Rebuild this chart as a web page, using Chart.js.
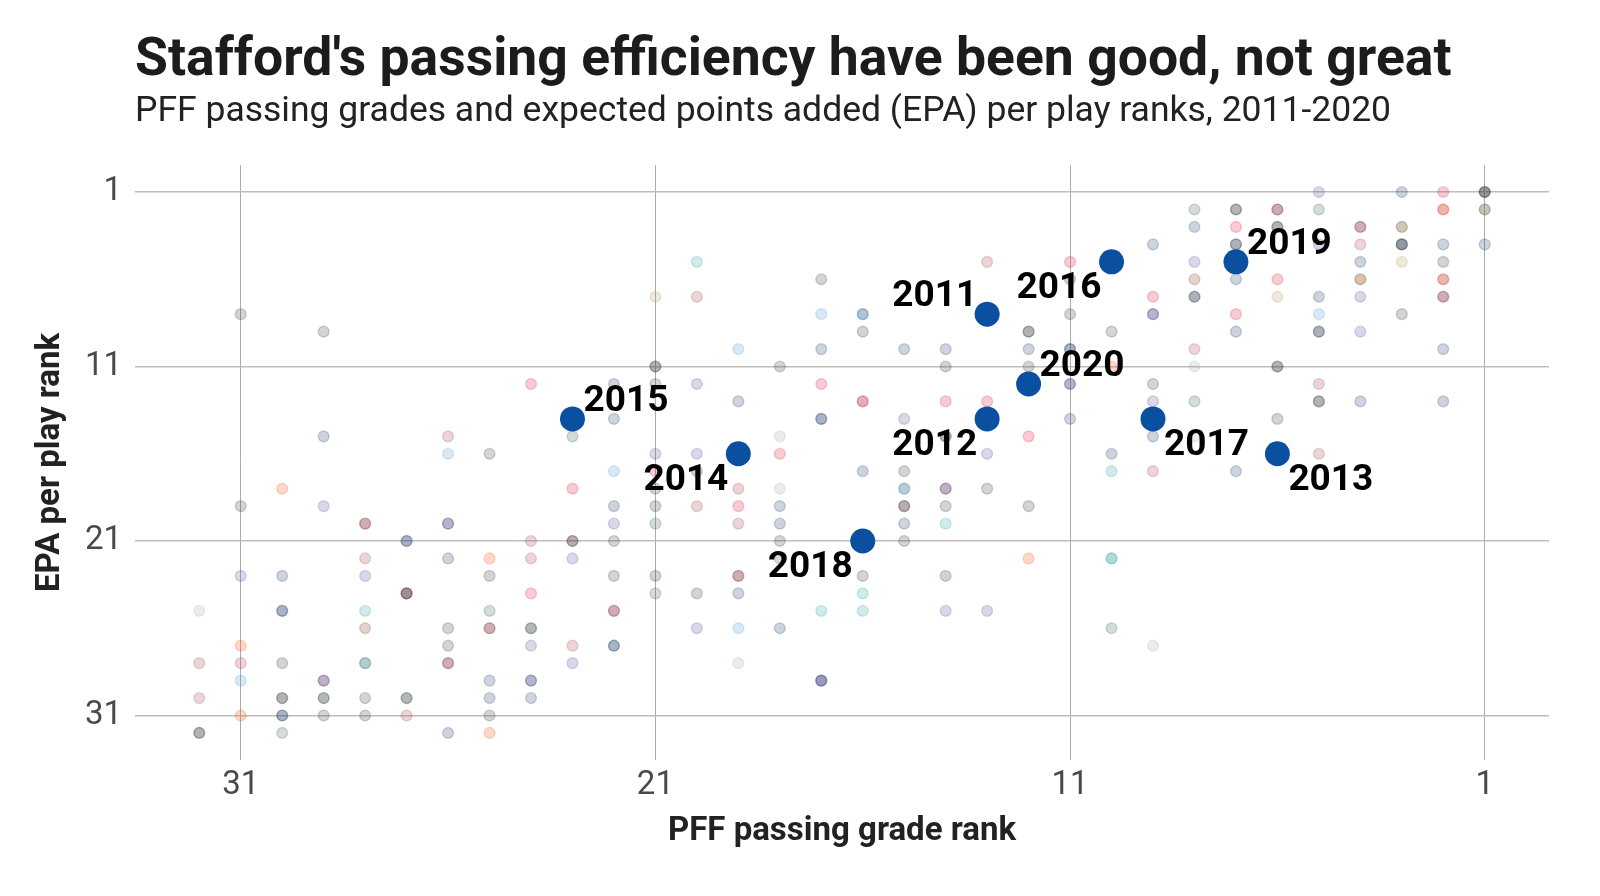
<!DOCTYPE html>
<html>
<head>
<meta charset="utf-8">
<script src="https://cdn.jsdelivr.net/npm/chart.js@4.4.1/dist/chart.umd.min.js"></script>
<style>
  html, body { margin: 0; padding: 0; background: #ffffff; }
  #wrap { width: 1600px; height: 896px; }
</style>
</head>
<body>
<div id="wrap"><canvas id="c" width="1600" height="896"></canvas></div>
<script>
// ---------------- DATA ----------------
const titleText = "Stafford's passing efficiency have been good, not great";
const subtitleText = "PFF passing grades and expected points added (EPA) per play ranks, 2011-2020";
const xAxisTitle = "PFF passing grade rank";
const yAxisTitle = "EPA per play rank";
const tickValues = [31, 21, 11, 1];

// Stafford seasons
const staffordYears      = ['2011', '2012', '2013', '2014', '2015', '2016', '2017', '2018', '2019', '2020'];
const staffordGradeRank  = [13, 13, 6, 19, 23, 10, 9, 16, 7, 12];
const staffordEpaRank    = [8, 14, 16, 16, 14, 5, 14, 21, 5, 12];

// All other QB seasons (grade rank, EPA rank, team colour group)
const bgGradeRank = [
  5,3,2,1,1,1,
  8,7,7,6,6,5,2,2,1,1,
  8,7,6,6,4,4,3,3,
  9,7,7,5,4,3,3,3,2,1,
  20,13,11,8,4,3,2,
  17,11,8,7,6,4,4,2,2,
  21,20,9,8,8,6,5,4,2,2,
  31,17,16,16,11,9,9,7,5,3,
  29,16,12,12,10,7,5,5,4,
  19,17,15,14,12,11,11,8,2,
  21,21,18,14,12,10,8,6,6,
  24,22,21,20,17,11,11,9,5,
  19,16,16,14,13,9,8,5,5,4,2,
  22,17,17,15,11,6,
  29,26,23,18,14,14,12,9,8,
  26,25,21,20,18,13,10,5,
  22,21,20,16,15,10,9,7,
  30,23,21,19,18,15,15,14,14,13,
  31,29,22,21,20,19,18,15,15,14,12,
  28,28,26,26,22,21,19,18,15,14,
  27,27,24,23,23,22,18,15,
  28,26,25,24,23,18,12,10,10,
  31,30,28,25,22,21,19,19,16,14,
  27,27,27,24,21,20,19,16,
  32,30,30,28,25,22,22,17,16,14,13,
  28,26,25,25,24,24,20,19,18,10,
  31,26,24,23,22,22,9,
  32,31,30,28,28,26,26,23,19,
  31,29,29,25,24,24,17,17,17,
  32,30,30,29,29,28,27,27,25,24,
  31,30,30,29,28,27,25,
  32,32,30,26,25
];
const bgEpaRank = [
  1,1,1,1,1,1,
  2,2,2,2,2,2,2,2,2,2,
  3,3,3,3,3,3,3,3,
  4,4,4,4,4,4,4,4,4,4,
  5,5,5,5,5,5,5,
  6,6,6,6,6,6,6,6,6,
  7,7,7,7,7,7,7,7,7,7,
  8,8,8,8,8,8,8,8,8,8,
  9,9,9,9,9,9,9,9,9,
  10,10,10,10,10,10,10,10,10,
  11,11,11,11,11,11,11,11,11,
  12,12,12,12,12,12,12,12,12,
  13,13,13,13,13,13,13,13,13,13,13,
  14,14,14,14,14,14,
  15,15,15,15,15,15,15,15,15,
  16,16,16,16,16,16,16,16,
  17,17,17,17,17,17,17,17,
  18,18,18,18,18,18,18,18,18,18,
  19,19,19,19,19,19,19,19,19,19,19,
  20,20,20,20,20,20,20,20,20,20,
  21,21,21,21,21,21,21,21,
  22,22,22,22,22,22,22,22,22,
  23,23,23,23,23,23,23,23,23,23,
  24,24,24,24,24,24,24,24,
  25,25,25,25,25,25,25,25,25,25,25,
  26,26,26,26,26,26,26,26,26,26,
  27,27,27,27,27,27,27,
  28,28,28,28,28,28,28,28,28,
  29,29,29,29,29,29,29,29,29,
  30,30,30,30,30,30,30,30,30,30,
  31,31,31,31,31,31,31,
  32,32,32,32,32
];
const bgTeam = [
  'P','N','R','K','K','K',
  'G','K','K','M','W','G','M','O','Y','K',
  'N','R','N','K','W','M','K','Y',
  'N','K','N','P','M','K','K','N','N','N',
  'T','M','R','P','N','Y','K',
  'K','N','C','N','R','Y','C','O','M',
  'Y','M','R','N','K','Y','N','P','W','M',
  'K','B','B','N','K','P','N','R','B','K',
  'K','K','K','K','K','N','N','K','P',
  'B','N','N','N','N','N','N','M','N',
  'K','K','K','K','K','O','S','K','K',
  'R','N','K','P','R','P','N','K','M',
  'N','R','M','R','R','P','G','K','K','N','N',
  'N','N','N','P','N','K',
  'N','M','G','S','P','W','R','N','S',
  'B','K','P','P','R','P','N','M',
  'B','R','K','N','K','T','M','N',
  'O','R','K','M','S','G','B','W','P','K',
  'K','P','N','K','M','R','N','W','K','K','K',
  'W','M','P','N','P','G','M','N','N','T',
  'N','N','M','W','K','K','K','K',
  'M','N','O','M','P','P','O','T','T',
  'P','N','P','K','K','N','W','M','K','N',
  'W','W','K','R','G','K','N','T',
  'S','N','N','T','G','W','M','T','T','P','P',
  'C','K','W','M','G','K','P','B','N','G',
  'O','K','P','M','N','N','S',
  'M','M','K','T','G','W','M','P','S',
  'B','W','P','N','P','N','N','N','P',
  'M','K','K','G','K','K','G','K','N','N',
  'O','N','N','K','K','M','K',
  'K','K','G','N','O'
];

// ---------------- STYLE ----------------
const teamColors = {
  K: [58, 58, 58],    // black
  N: [32, 61, 107],   // navy
  B: [74, 154, 216],  // light blue
  R: [227, 24, 55],   // red
  O: [251, 79, 20],   // orange
  M: [165, 66, 74],   // maroon
  W: [90, 26, 42],    // burgundy
  P: [90, 74, 154],   // purple
  T: [42, 165, 165],  // teal
  G: [61, 90, 90],    // dark green/grey
  S: [165, 172, 175], // silver
  Y: [179, 153, 93],  // gold
  C: [122, 58, 26]    // brown
};
const bgAlpha = 0.22;
const staffordBlue = '#0a4fa0';
const labelSide = ['upper-left', 'lower-left', 'lower-right', 'lower-left', 'upper-right',
                   'lower-left', 'lower-right', 'lower-left', 'upper-right', 'upper-right'];
const FONT = 'Roboto';

const rgba = (c, a) => `rgba(${c[0]},${c[1]},${c[2]},${a})`;
const bgColors = bgTeam.map(t => rgba(teamColors[t], bgAlpha));

const headerPlugin = {
  id: 'header',
  afterDraw(chart) {
    const ctx = chart.ctx, a = chart.chartArea;
    ctx.save();
    ctx.textAlign = 'left';
    ctx.textBaseline = 'alphabetic';
    ctx.fillStyle = '#1c1c1c';
    ctx.font = `bold 53.5px ${FONT}`;
    ctx.fillText(titleText, a.left + 0, 75);
    ctx.fillStyle = '#222222';
    ctx.font = `35.5px ${FONT}`;
    ctx.fillText(subtitleText, a.left + 0, 121);
    ctx.restore();
  }
};

const yearLabelPlugin = {
  id: 'yearLabels',
  afterDatasetsDraw(chart) {
    const ctx = chart.ctx;
    const meta = chart.getDatasetMeta(0);
    ctx.save();
    ctx.font = `bold 37px ${FONT}`;
    ctx.fillStyle = '#000000';
    ctx.textBaseline = 'middle';
    meta.data.forEach((pt, i) => {
      const side = labelSide[i];
      const left = side.endsWith('left');
      const up = side.startsWith('upper');
      ctx.textAlign = left ? 'right' : 'left';
      const tx = pt.x + (left ? -10 : 11);
      const ty = pt.y + (up ? -17 : 27);
      ctx.fillText(staffordYears[i], tx, ty);
    });
    ctx.restore();
  }
};

const setTicks = s => { s.ticks = tickValues.map(v => ({ value: v })); };

new Chart(document.getElementById('c'), {
  type: 'scatter',
  data: {
    datasets: [
      {
        label: 'Stafford',
        data: staffordGradeRank.map((g, i) => ({ x: g, y: staffordEpaRank[i] })),
        pointRadius: 12.5,
        pointBackgroundColor: staffordBlue,
        pointBorderColor: staffordBlue,
        pointBorderWidth: 0
      },
      {
        label: 'Other QBs',
        data: bgGradeRank.map((g, i) => ({ x: g, y: bgEpaRank[i] })),
        pointRadius: 5.4,
        pointBackgroundColor: bgColors,
        pointBorderColor: bgColors,
        pointBorderWidth: 1.4
      }
    ]
  },
  options: {
    responsive: false,
    animation: false,
    events: [],
    layout: { autoPadding: false, padding: { top: 165, right: 51, bottom: 0, left: 0 } },
    plugins: { legend: { display: false }, tooltip: { enabled: false }, title: { display: false } },
    scales: {
      x: {
        type: 'linear',
        reverse: true,
        min: -0.55,
        max: 33.55,
        afterBuildTicks: setTicks,
        afterFit: s => { s.height = 136; },
        border: { display: false },
        grid: { color: '#ababab', lineWidth: 1, drawTicks: false },
        ticks: { color: '#4a4a4a', font: { family: FONT, size: 33 }, padding: 6 },
        title: {
          display: true, text: xAxisTitle, color: '#222222',
          font: { family: FONT, size: 33, weight: 'bold' },
          padding: { top: 0, bottom: 44 }
        }
      },
      y: {
        type: 'linear',
        reverse: true,
        min: -0.55,
        max: 33.55,
        afterBuildTicks: setTicks,
        afterFit: s => { s.width = 135; },
        border: { display: false },
        grid: { color: '#bdbdbd', lineWidth: 1.4, drawTicks: false },
        ticks: { color: '#4a4a4a', font: { family: FONT, size: 33 }, padding: 13 },
        title: {
          display: true, text: yAxisTitle, color: '#222222',
          font: { family: FONT, size: 33, weight: 'bold' },
          padding: { top: 31, bottom: 0 }
        }
      }
    }
  },
  plugins: [headerPlugin, yearLabelPlugin]
});
</script>
</body>
</html>
